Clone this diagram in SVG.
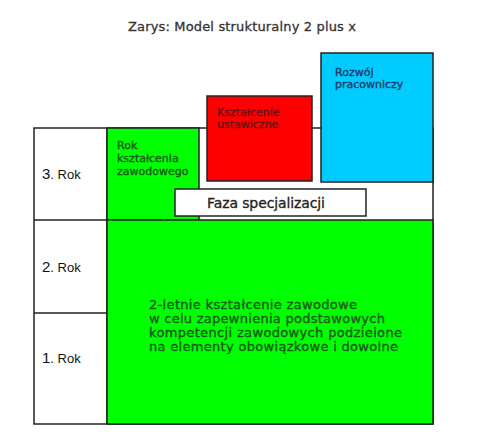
<svg xmlns="http://www.w3.org/2000/svg" width="502" height="442" viewBox="0 0 502 442">
<style>
.b{stroke:#222;stroke-width:1.5}
.t{font-family:"DejaVu Sans",sans-serif;font-size:11px;stroke-width:0.35}
.big{font-size:13px}
.r{font-family:"Liberation Sans",Arial,sans-serif;font-size:13px;fill:#111}
.g{fill:#1a5a1a;stroke:#1a5a1a}
</style>
<rect width="502" height="442" fill="#fff"/>
<text x="242" y="31" text-anchor="middle" font-family="DejaVu Sans, sans-serif" font-size="13" fill="#333" stroke="#333" stroke-width="0.3" textLength="228">Zarys: Model strukturalny 2 plus x</text>
<g id="frame">
<rect class="b" x="34" y="128" width="399" height="296" fill="#fff"/>
<line class="b" x1="107" y1="128" x2="107" y2="424"/>
<line class="b" x1="34" y1="220" x2="107" y2="220"/>
<line class="b" x1="34" y1="313" x2="107" y2="313"/>
</g>
<g id="rok3"><text class="r" x="42" y="179"><tspan font-size="15">3</tspan>. Rok</text></g>
<g id="rok2"><text class="r" x="42" y="272"><tspan font-size="15">2</tspan>. Rok</text></g>
<g id="rok1"><text class="r" x="42" y="363"><tspan font-size="15">1</tspan>. Rok</text></g>
<g id="rok-ksztalcenia">
<rect class="b" x="107" y="128" width="92" height="92" fill="#00ff00"/>
<text class="t g" x="117" y="149">Rok</text>
<text class="t g" x="117" y="162">kształcenia</text>
<text class="t g" x="117" y="175">zawodowego</text>
</g>
<g id="ksztalcenie-ustawiczne">
<rect class="b" x="207" y="96" width="105" height="85" fill="#ff0000"/>
<text class="t" fill="#6a1010" stroke="#6a1010" x="217" y="115.5">Kształcenie</text>
<text class="t" fill="#6a1010" stroke="#6a1010" x="217" y="128">ustawiczne</text>
</g>
<g id="rozwoj">
<rect class="b" x="321" y="53" width="112" height="129" fill="#00ccff"/>
<text class="t" fill="#1a3a6a" stroke="#1a3a6a" x="335" y="75.5">Rozwój</text>
<text class="t" fill="#1a3a6a" stroke="#1a3a6a" x="335" y="88">pracowniczy</text>
</g>
<g id="faza">
<rect class="b" x="175" y="189" width="191" height="27" fill="#fff"/>
<text x="207" y="208" font-family="DejaVu Sans, sans-serif" font-size="14" fill="#222" stroke="#222" stroke-width="0.3" textLength="118">Faza specjalizacji</text>
</g>
<g id="dwuletnie">
<rect class="b" x="107" y="220" width="326" height="204" fill="#00ff00"/>
<text class="t g big" x="149" y="309" textLength="208">2-letnie kształcenie zawodowe</text>
<text class="t g big" x="149" y="323" textLength="236">w celu zapewnienia podstawowych</text>
<text class="t g big" x="149" y="337" textLength="253">kompetencji zawodowych podzielone</text>
<text class="t g big" x="149" y="351" textLength="249">na elementy obowiązkowe i dowolne</text>
</g>
</svg>
